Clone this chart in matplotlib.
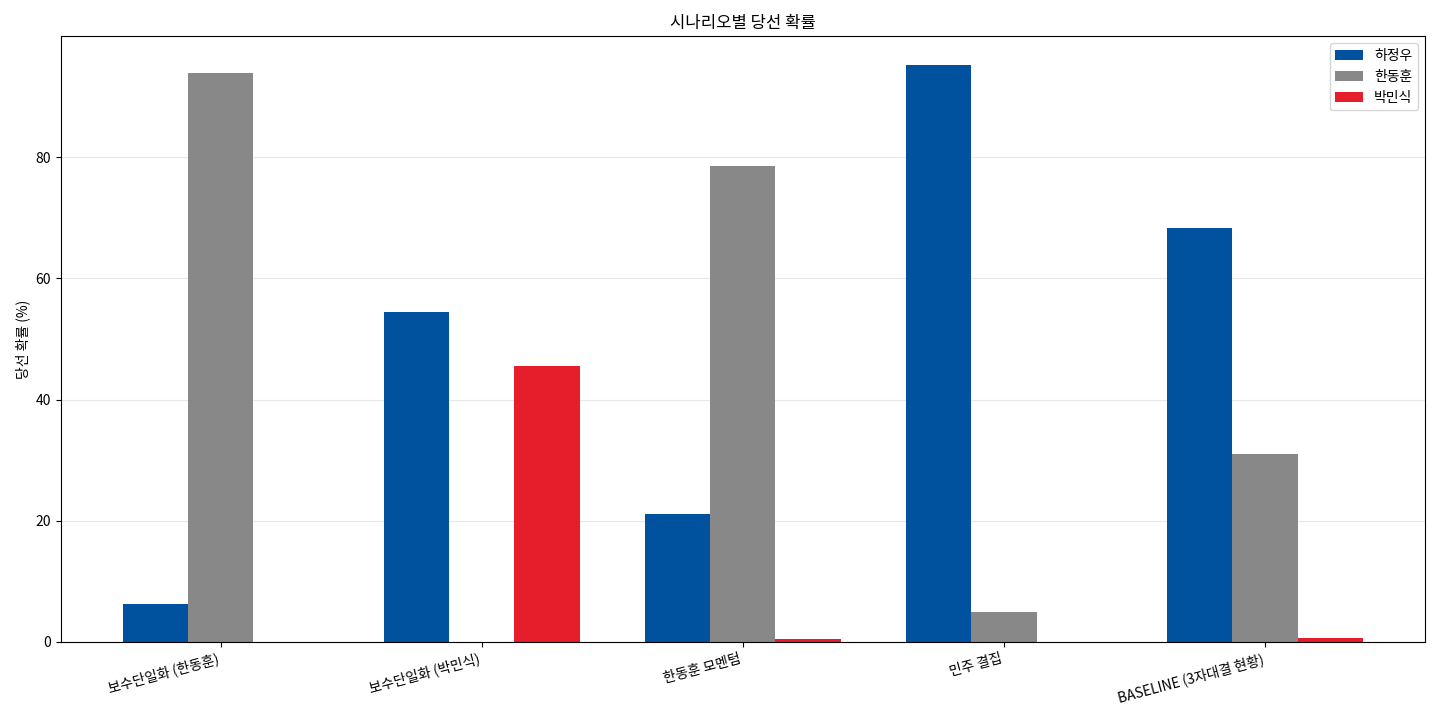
import matplotlib
matplotlib.use("Agg")
import matplotlib.pyplot as plt
import numpy as np

plt.rcParams['font.family'] = ['Noto Sans CJK KR', 'DejaVu Sans']
plt.rcParams['axes.unicode_minus'] = False

scenarios = ['보수단일화 (한동훈)', '보수단일화 (박민식)', '한동훈 모멘텀', '민주 결집', 'BASELINE (3자대결 현황)']
candidates = ['하정우', '한동훈', '박민식']
ha = [6.3, 54.5, 21.1, 95.2, 68.3]
han = [93.9, 0.0, 78.6, 5.0, 31.0]
park = [0.0, 45.5, 0.4, 0.0, 0.7]
colors = ['#00529F', '#888888', '#E61E2B']

fig, ax = plt.subplots(figsize=(14.4, 7.2), dpi=100)
x = np.arange(len(scenarios))
w = 0.25
for i, (vals, name, c) in enumerate(zip([ha, han, park], candidates, colors)):
    ax.bar(x + (i - 1) * w, vals, w, label=name, color=c)
ax.set_xticks(x)
ax.set_xticklabels(scenarios, rotation=15, ha='right')
ax.set_ylabel('당선 확률 (%)')
ax.set_title('시나리오별 당선 확률')
ax.legend(loc='upper right')
ax.grid(axis='y', alpha=0.3)
ax.set_axisbelow(True)
fig.tight_layout()
fig.savefig('out.png')
